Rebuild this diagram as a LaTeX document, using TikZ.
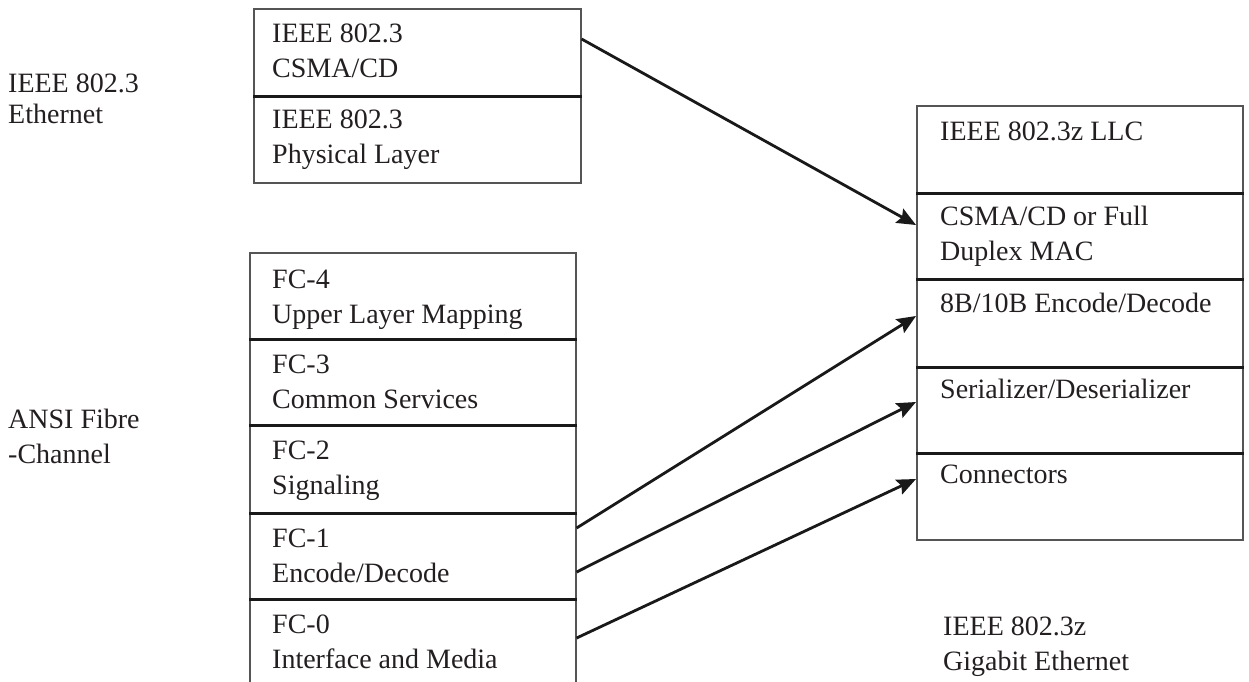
\documentclass[tikz,border=0pt]{standalone}
\usepackage{fontspec}
\setmainfont{Liberation Serif}
\usetikzlibrary{arrows.meta,calc}
\definecolor{boxgray}{HTML}{555555}
\definecolor{txtcol}{HTML}{231F20}
\begin{document}
\begin{tikzpicture}[x=1pt,y=-1pt,
  cell/.style={draw=boxgray,line width=1.6pt,inner sep=0pt,anchor=north west},
  txt/.style={anchor=base west,inner sep=0pt,font=\fontsize{28}{35}\selectfont,text=txtcol,align=left},
  div/.style={line width=2.4pt,draw=black!90},
  arr/.style={line width=2.8pt,draw=black!90,-{Stealth[length=19pt,width=16pt,inset=3pt]}},
]
\useasboundingbox (0,0) rectangle (1249,681);
\clip (0,0) rectangle (1249,681);

% top-left IEEE 802.3 stack
\node[cell,minimum width=327pt,minimum height=87pt] (csma) at (253,8) {};
\node[cell,minimum width=327pt,minimum height=87pt] (phy) at (253,95) {};
\draw[div] (csma.south west) -- (csma.south east);
\node[txt] (tcsma) at ($(csma.north west)+(19,69)$) {IEEE 802.3\\CSMA/CD};
\node[txt] (tphy) at ($(phy.north west)+(19,68)$) {IEEE 802.3\\Physical Layer};

% left Fibre Channel stack
\node[cell,minimum width=326pt,minimum height=86pt] (fc4) at (249,252) {};
\node[cell,minimum width=326pt,minimum height=86pt] (fc3) at (249,338) {};
\node[cell,minimum width=326pt,minimum height=88pt] (fc2) at (249,424) {};
\node[cell,minimum width=326pt,minimum height=86pt] (fc1) at (249,512) {};
\node[cell,minimum width=326pt,minimum height=92pt] (fc0) at (249,598) {};
\foreach \c in {fc4,fc3,fc2,fc1}{\draw[div] (\c.south west) -- (\c.south east);}
\node[txt] (tfc4) at ($(fc4.north west)+(23,71)$) {FC-4\\Upper Layer Mapping};
\node[txt] (tfc3) at ($(fc3.north west)+(23,70)$) {FC-3\\Common Services};
\node[txt] (tfc2) at ($(fc2.north west)+(23,70)$) {FC-2\\Signaling};
\node[txt] (tfc1) at ($(fc1.north west)+(23,70)$) {FC-1\\Encode/Decode};
\node[txt] (tfc0) at ($(fc0.north west)+(23,70)$) {FC-0\\Interface and Media};

% right Gigabit Ethernet stack
\node[cell,minimum width=326pt,minimum height=87pt] (llc) at (916,105) {};
\node[cell,minimum width=326pt,minimum height=86pt] (mac) at (916,192) {};
\node[cell,minimum width=326pt,minimum height=88pt] (enc) at (916,278) {};
\node[cell,minimum width=326pt,minimum height=86pt] (ser) at (916,366) {};
\node[cell,minimum width=326pt,minimum height=87pt] (con) at (916,452) {};
\foreach \c in {llc,mac,enc,ser}{\draw[div] (\c.south west) -- (\c.south east);}
\node[txt] (tllc) at ($(llc.north west)+(24,35)$) {IEEE 802.3z LLC};
\node[txt] (tmac) at ($(mac.north west)+(24,68)$) {CSMA/CD or Full\\Duplex MAC};
\node[txt] (tenc) at ($(enc.north west)+(24,34)$) {8B/10B Encode/Decode};
\node[txt] (tser) at ($(ser.north west)+(24,32)$) {Serializer/Deserializer};
\node[txt] (tcon) at ($(con.north west)+(24,31)$) {Connectors};

% side labels
\node[txt] (leth) at (8,123) {IEEE 802.3\\[-4pt]Ethernet};
\node[txt] (lfc) at (8,463) {ANSI Fibre\\-Channel};
\node[txt] (lgig) at (943,670) {IEEE 802.3z\\Gigabit Ethernet};

% connector end points
\coordinate (s1) at ($(csma.north east)+(0,31)$);
\coordinate (e1) at ($(mac.north west)+(0,33)$);
\coordinate (s2) at ($(fc1.north east)+(0,16)$);
\coordinate (e2) at ($(enc.north west)+(0,38)$);
\coordinate (s3) at ($(fc1.north east)+(0,60)$);
\coordinate (e3) at ($(ser.north west)+(0,36)$);
\coordinate (s4) at ($(fc0.north east)+(0,40)$);
\coordinate (e4) at ($(con.north west)+(0,27)$);
\draw[arr] (s1) -- (e1);
\draw[arr] (s2) -- (e2);
\draw[arr] (s3) -- (e3);
\draw[arr] (s4) -- (e4);
\end{tikzpicture}
\end{document}
